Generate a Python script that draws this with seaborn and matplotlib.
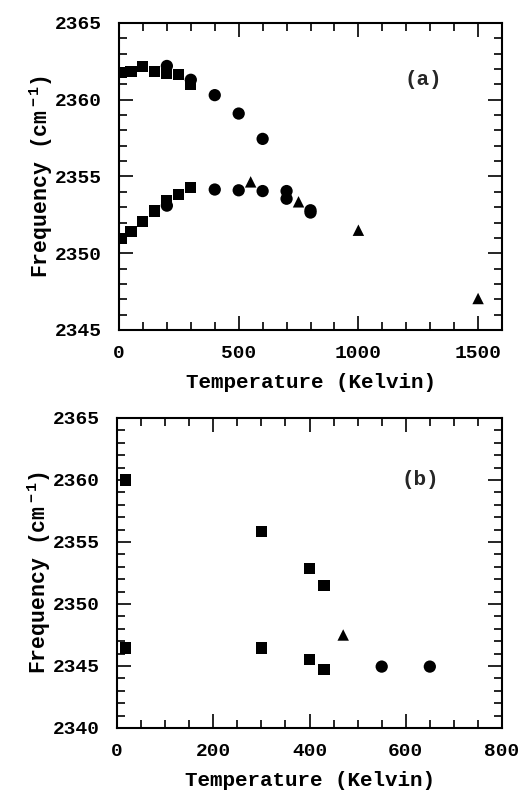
import numpy as np
import pandas as pd
import matplotlib
matplotlib.use("Agg")
import matplotlib.pyplot as plt
import seaborn as sns
from matplotlib.ticker import MultipleLocator

sns.set_theme(style="white")
plt.rcParams['font.family'] = ['Liberation Mono', 'DejaVu Sans']
plt.rcParams['font.weight'] = 'bold'
plt.rcParams['mathtext.fontset'] = 'custom'
plt.rcParams['mathtext.rm'] = 'Liberation Mono:bold'
plt.rcParams['mathtext.it'] = 'Liberation Mono:bold'
plt.rcParams['mathtext.default'] = 'rm'

# ---- Panel (a) data ----
a_sq_T = [10, 50, 100, 150, 200, 250, 300, 10, 50, 100, 150, 200, 250, 300]
a_sq_F = [2361.8, 2361.85, 2362.15, 2361.85, 2361.7, 2361.65, 2361.0,
          2350.95, 2351.4, 2352.05, 2352.75, 2353.45, 2353.85, 2354.3]
a_ci_T = [200, 300, 400, 500, 600, 200, 400, 500, 600, 700, 700, 800, 800]
a_ci_F = [2362.2, 2361.3, 2360.3, 2359.1, 2357.45, 2353.1, 2354.15, 2354.1,
          2354.05, 2354.05, 2353.55, 2352.8, 2352.65]
a_tr_T = [550, 750, 1000, 1500]
a_tr_F = [2354.65, 2353.35, 2351.5, 2347.05]

# ---- Panel (b) data ----
b_sq_T = [17, 17, 300, 300, 400, 400, 430, 430]
b_sq_F = [2360.0, 2346.45, 2355.85, 2346.45, 2352.85, 2345.55, 2351.5, 2344.75]
b_ci_T = [550, 650]
b_ci_F = [2344.95, 2344.95]
b_tr_T = [470]
b_tr_F = [2347.5]

x_label = "Temperature (Kelvin)"
y_label = "Frequency (cm$^{\\,-1}$)"


def make_df(sqT, sqF, ciT, ciF, trT, trF):
    return pd.DataFrame({
        "T": list(sqT) + list(ciT) + list(trT),
        "F": list(sqF) + list(ciF) + list(trF),
        "kind": ["sq"] * len(sqT) + ["ci"] * len(ciT) + ["tr"] * len(trT),
    })


dfa = make_df(a_sq_T, a_sq_F, a_ci_T, a_ci_F, a_tr_T, a_tr_F)
dfb = make_df(b_sq_T, b_sq_F, b_ci_T, b_ci_F, b_tr_T, b_tr_F)

markers = {"sq": "s", "ci": "o", "tr": "^"}
sizes = {"sq": 64, "ci": 78, "tr": 68}

fig = plt.figure(figsize=(5.27, 7.93), dpi=100)
axa = fig.add_axes([0.2258, 0.5839, 0.7268, 0.3871])
axb = fig.add_axes([0.2220, 0.0820, 0.7306, 0.3909])

for ax, df in [(axa, dfa), (axb, dfb)]:
    for k in ["sq", "ci", "tr"]:
        sub = df[df["kind"] == k]
        sns.scatterplot(data=sub, x="T", y="F", marker=markers[k], s=sizes[k],
                        color="black", edgecolor="none", linewidth=0, ax=ax,
                        legend=False, zorder=3)

def style(ax, xmaj, xmin, ymaj, ymin):
    ax.xaxis.set_major_locator(MultipleLocator(xmaj))
    ax.xaxis.set_minor_locator(MultipleLocator(xmin))
    ax.yaxis.set_major_locator(MultipleLocator(ymaj))
    ax.yaxis.set_minor_locator(MultipleLocator(ymin))
    ax.tick_params(which="both", direction="in", top=True, right=True,
                   bottom=True, left=True, color="black", width=1.2)
    ax.tick_params(which="major", length=10, labelsize=14)
    ax.tick_params(which="minor", length=5.5)
    ax.tick_params(axis="y", which="major", pad=12)
    ax.tick_params(axis="x", which="major", pad=11)
    for s in ax.spines.values():
        s.set_color("black")
        s.set_linewidth(1.5)
    ax.set_xlabel(x_label, fontsize=15, labelpad=8, color="black", fontweight="bold")
    ax.set_ylabel(y_label, fontsize=15.5, labelpad=0, color="black", fontweight="bold")
    for lab in ax.get_xticklabels() + ax.get_yticklabels():
        lab.set_color("black")
        lab.set_fontweight("bold")

axa.set_xlim(0, 1600)
axa.set_ylim(2345, 2365)
style(axa, 500, 100, 5, 1)
axa.text(1270, 2361.3, "(a)", fontsize=15, ha="center", va="center", fontweight="bold")

axb.set_xlim(0, 800)
axb.set_ylim(2340, 2365)
style(axb, 200, 50, 5, 1)
axb.text(630, 2360.0, "(b)", fontsize=15, ha="center", va="center", fontweight="bold")

fig.savefig("out.png", dpi=100)
